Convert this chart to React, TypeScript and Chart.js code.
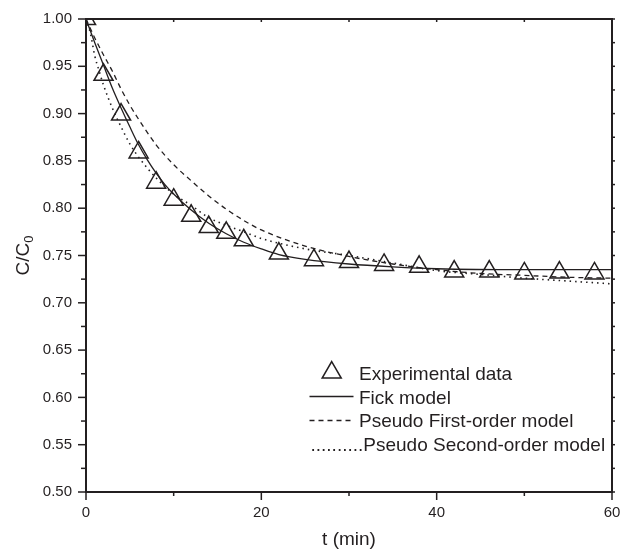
import React, { useEffect, useRef } from "react";
import { Chart, registerables } from "chart.js";

Chart.register(...registerables);

// ---- data ----
const expT = [0, 2, 4, 6, 8, 10, 12, 14, 16, 18, 22, 26, 30, 34, 38, 42, 46, 50, 54, 58];
const expC = [1.0, 0.941, 0.899, 0.859, 0.827, 0.809, 0.792, 0.78, 0.774, 0.766, 0.752, 0.745, 0.743, 0.74, 0.738, 0.733, 0.733, 0.731, 0.732, 0.731];

const fickT = [0, 1, 2, 3, 4, 5, 6, 7, 8, 9, 10, 12, 14, 16, 18, 20, 22, 25, 30, 35, 40, 50, 60];
const fickC = [1.0, 0.975, 0.951, 0.927, 0.906, 0.886, 0.867, 0.851, 0.837, 0.825, 0.815, 0.798, 0.784, 0.773, 0.764, 0.757, 0.751, 0.746, 0.741, 0.738, 0.736, 0.735, 0.735];

const firstT = [0, 1, 2, 3, 4, 5, 6, 8, 10, 12, 14, 16, 18, 20, 25, 30, 35, 40, 45, 50, 55, 60];
const firstC = [1.0, 0.98, 0.962, 0.945, 0.926, 0.909, 0.894, 0.867, 0.846, 0.829, 0.813, 0.799, 0.787, 0.777, 0.76, 0.749, 0.741, 0.735, 0.731, 0.729, 0.727, 0.726];

const secondT = [0, 0.5, 1, 1.5, 2, 3, 4, 5, 6, 8, 10, 12, 14, 16, 18, 20, 25, 30, 35, 40, 45, 50, 55, 60];
const secondC = [1.0, 0.985, 0.961, 0.945, 0.93, 0.906, 0.886, 0.868, 0.854, 0.832, 0.815, 0.803, 0.79, 0.782, 0.775, 0.768, 0.757, 0.75, 0.742, 0.734, 0.73, 0.726, 0.723, 0.72];

const xMajorTicks = [0, 20, 40, 60];
const xMinorTicks = [10, 30, 50];
const yMajorTicks = [0.5, 0.55, 0.6, 0.65, 0.7, 0.75, 0.8, 0.85, 0.9, 0.95, 1.0];
const yMinorTicks = [0.525, 0.575, 0.625, 0.675, 0.725, 0.775, 0.825, 0.875, 0.925, 0.975];

const legendLabels = ["Experimental data", "Fick model", "Pseudo First-order model", "..........Pseudo Second-order model"];
const xTitle = "t (min)";
const yTitleMain = "C/C";
const yTitleSub = "0";

const INK = "#231f20";
const FONT = "'Liberation Sans', Arial, sans-serif";

const toPts = (xs: number[], ys: number[]) => xs.map((x, i) => ({ x, y: ys[i] }));

const decorPlugin = {
  id: "decor",
  afterDraw(chart: any) {
    const { ctx, chartArea: a, scales } = chart;
    const xs = scales.x;
    const ys = scales.y;
    ctx.save();
    ctx.strokeStyle = INK;
    ctx.fillStyle = INK;
    ctx.lineWidth = 2;
    ctx.strokeRect(a.left, a.top, a.right - a.left, a.bottom - a.top);
    const seg = (x1: number, y1: number, x2: number, y2: number) => {
      ctx.beginPath();
      ctx.moveTo(x1, y1);
      ctx.lineTo(x2, y2);
      ctx.stroke();
    };
    ctx.lineWidth = 1.5;
    xMajorTicks.forEach((v) => {
      const px = xs.getPixelForValue(v);
      seg(px, a.bottom, px, a.bottom + 8);
      seg(px, a.top, px, a.top + 3);
    });
    xMinorTicks.forEach((v) => {
      const px = xs.getPixelForValue(v);
      seg(px, a.bottom, px, a.bottom + 4);
      seg(px, a.top, px, a.top + 3);
    });
    yMajorTicks.forEach((v) => {
      const py = ys.getPixelForValue(v);
      seg(a.left, py, a.left - 8, py);
      seg(a.right, py, a.right + 3, py);
    });
    yMinorTicks.forEach((v) => {
      const py = ys.getPixelForValue(v);
      seg(a.left, py, a.left - 5, py);
      seg(a.right, py, a.right + 3, py);
    });

    // legend
    ctx.font = `19px ${FONT}`;
    ctx.textBaseline = "alphabetic";
    ctx.textAlign = "left";
    const tx = 359;
    const cx = 331.7, cy = 372.5, r = 11;
    ctx.lineWidth = 1.5;
    ctx.beginPath();
    for (let k = 0; k < 3; k++) {
      const ang = (k * 2 * Math.PI) / 3;
      const px = cx + Math.sin(ang) * r;
      const py = cy - Math.cos(ang) * r;
      if (k === 0) ctx.moveTo(px, py);
      else ctx.lineTo(px, py);
    }
    ctx.closePath();
    ctx.stroke();
    ctx.fillText(legendLabels[0], tx, 380);
    ctx.lineWidth = 1.3;
    seg(309.5, 396.5, 353.5, 396.5);
    ctx.fillText(legendLabels[1], tx, 403.5);
    ctx.setLineDash([5, 4]);
    seg(309.5, 420.5, 353.5, 420.5);
    ctx.setLineDash([]);
    ctx.fillText(legendLabels[2], tx, 427);
    ctx.fillText(legendLabels[3], 310.5, 450.5);

    // axis titles
    ctx.textAlign = "center";
    ctx.fillText(xTitle, (a.left + a.right) / 2, 545);
    const midY = (a.top + a.bottom) / 2;
    ctx.translate(29, midY);
    ctx.rotate(-Math.PI / 2);
    ctx.textAlign = "left";
    ctx.font = `19px ${FONT}`;
    const wMain = ctx.measureText(yTitleMain).width;
    ctx.font = `13px ${FONT}`;
    const wSub = ctx.measureText(yTitleSub).width;
    const start = -(wMain + wSub) / 2;
    ctx.font = `19px ${FONT}`;
    ctx.fillText(yTitleMain, start, 0);
    ctx.font = `13px ${FONT}`;
    ctx.fillText(yTitleSub, start + wMain, 4);
    ctx.restore();
  },
};

export default function App() {
  const ref = useRef<HTMLCanvasElement | null>(null);
  useEffect(() => {
    if (!ref.current) return;
    Chart.defaults.font.family = FONT;
    const chart = new Chart(ref.current, {
      type: "scatter",
      data: {
        datasets: [
          {
            label: "Experimental data",
            data: toPts(expT, expC),
            showLine: false,
            pointStyle: "triangle",
            pointRadius: 11,
            pointBorderWidth: 1.5,
            pointBorderColor: INK,
            pointBackgroundColor: "rgba(0,0,0,0)",
            clip: 0,
          },
          {
            label: "Fick model",
            data: toPts(fickT, fickC),
            showLine: true,
            pointRadius: 0,
            borderColor: INK,
            borderWidth: 1.3,
            cubicInterpolationMode: "monotone",
          },
          {
            label: "Pseudo First-order model",
            data: toPts(firstT, firstC),
            showLine: true,
            pointRadius: 0,
            borderColor: INK,
            borderWidth: 1.3,
            borderDash: [5, 4],
            cubicInterpolationMode: "monotone",
          },
          {
            label: "Pseudo Second-order model",
            data: toPts(secondT, secondC),
            showLine: true,
            pointRadius: 0,
            borderColor: INK,
            borderWidth: 1.6,
            borderDash: [1.5, 4],
            cubicInterpolationMode: "monotone",
          },
        ],
      } as any,
      options: {
        animation: false,
        responsive: true,
        maintainAspectRatio: false,
        events: [],
        layout: { autoPadding: false, padding: { top: 19, right: 8, left: 0, bottom: 0 } },
        plugins: { legend: { display: false }, tooltip: { enabled: false } },
        scales: {
          x: {
            type: "linear",
            min: 0,
            max: 60,
            grid: { display: true, drawOnChartArea: false, drawTicks: true, tickLength: 12, tickColor: "rgba(0,0,0,0)" },
            border: { display: false },
            ticks: { stepSize: 20, padding: 0, color: INK, font: { size: 15, family: FONT } },
            afterFit: (s: any) => {
              s.height = 59;
              s.paddingLeft = 0;
              s.paddingRight = 0;
            },
          },
          y: {
            type: "linear",
            min: 0.5,
            max: 1.0,
            grid: { display: true, drawOnChartArea: false, drawTicks: true, tickLength: 14, tickColor: "rgba(0,0,0,0)" },
            border: { display: false },
            ticks: {
              stepSize: 0.05,
              padding: 0,
              color: INK,
              font: { size: 15, family: FONT },
              callback: (v: any) => Number(v).toFixed(2),
            },
            afterFit: (s: any) => {
              s.width = 86;
            },
          },
        },
      } as any,
      plugins: [decorPlugin],
    });
    return () => chart.destroy();
  }, []);
  return (
    <div style={{ position: "absolute", left: 0, top: 0, width: 620, height: 551, background: "#fff" }}>
      <canvas ref={ref} style={{ display: "block" }} />
    </div>
  );
}
